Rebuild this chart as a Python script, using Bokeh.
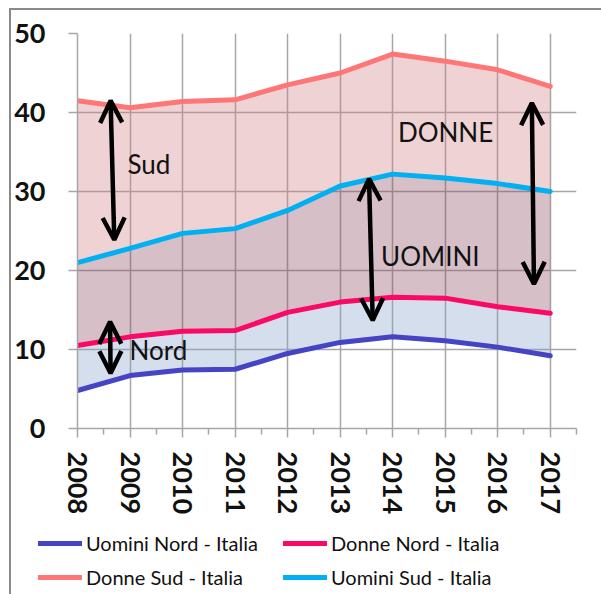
from bokeh.plotting import figure
from bokeh.layouts import column
from bokeh.models import Range1d, FixedTicker, Legend, LegendItem, Label, Arrow, OpenHead
from bokeh.embed import file_html
from bokeh.resources import INLINE

years = [2008, 2009, 2010, 2011, 2012, 2013, 2014, 2015, 2016, 2017]
year_labels = ["2008", "2009", "2010", "2011", "2012", "2013", "2014", "2015", "2016", "2017"]
uomini_nord = [4.8, 6.7, 7.4, 7.5, 9.5, 10.9, 11.6, 11.1, 10.3, 9.2]
donne_nord = [10.5, 11.6, 12.3, 12.4, 14.7, 16.0, 16.6, 16.5, 15.4, 14.6]
donne_sud = [41.5, 40.6, 41.4, 41.6, 43.5, 45.0, 47.4, 46.5, 45.4, 43.3]
uomini_sud = [21.0, 22.8, 24.7, 25.3, 27.6, 30.7, 32.2, 31.7, 31.0, 30.0]
y_ticks = [0, 10, 20, 30, 40, 50]

# annotations (data units)
notes = [("Sud", 2008.95, 33.5), ("Nord", 2008.99, 9.9), ("DONNE", 2014.1, 37.5), ("UOMINI", 2013.78, 21.8)]
arrows = [(2008.63, 41.5, 2008.70, 23.9), (2008.62, 13.5, 2008.63, 7.0),
          (2013.55, 31.6, 2013.62, 13.7), (2016.65, 41.2, 2016.69, 18.3)]

colors = {"un": "#4444C4", "dn": "#FA0A64", "ds": "#FF7676", "us": "#00B0F0"}

p = figure(width=590, height=515, output_backend="svg", toolbar_location=None,
           x_range=Range1d(2008, 2017.5), y_range=Range1d(0, 50),
           min_border_left=65, min_border_right=25, min_border_top=23, min_border_bottom=97)
p.outline_line_color = None
p.frame_align = False

# bands
p.varea(x=years, y1=uomini_sud, y2=donne_sud, fill_color="#D18184", fill_alpha=0.35)
p.varea(x=years, y1=donne_nord, y2=uomini_sud, fill_color="#8A485F", fill_alpha=0.35)
p.varea(x=years, y1=uomini_nord, y2=donne_nord, fill_color="#84A1C9", fill_alpha=0.35)

kw = dict(line_width=5, line_cap="round", line_join="round")
p.line(years, uomini_nord, line_color=colors["un"], **kw)
p.line(years, donne_nord, line_color=colors["dn"], **kw)
p.line(years, donne_sud, line_color=colors["ds"], **kw)
p.line(years, uomini_sud, line_color=colors["us"], **kw)

grid_col = "#A6A6A6"
p.xgrid.grid_line_color = grid_col
p.ygrid.grid_line_color = grid_col
p.xgrid.grid_line_width = 1.5
p.ygrid.grid_line_width = 1.5

minor = [y + 0.5 for y in years]
p.xaxis.ticker = FixedTicker(ticks=years, minor_ticks=minor)
p.xaxis.major_label_overrides = {y: l for y, l in zip(years, year_labels)}
p.xaxis.major_label_orientation = "vertical"
p.yaxis.ticker = FixedTicker(ticks=y_ticks)
for ax in (p.xaxis, p.yaxis):
    ax.axis_line_color = grid_col
    ax.axis_line_width = 1.5
    ax.major_tick_line_color = grid_col
    ax.major_tick_line_width = 1.5
    ax.minor_tick_line_color = grid_col
    ax.minor_tick_line_width = 1.5
    ax.major_tick_in = 0
    ax.major_tick_out = 9
    ax.minor_tick_in = 0
    ax.minor_tick_out = 6
    ax.major_label_text_font = "Lato"
    ax.major_label_text_font_style = "bold"
    ax.major_label_text_font_size = "27px"
    ax.major_label_text_color = "#111111"
p.yaxis.minor_tick_line_color = None
p.xaxis.major_label_standoff = 14
p.yaxis.major_label_standoff = 23

for (t, x, y) in notes:
    p.add_layout(Label(x=x, y=y, text=t, text_font="Lato", text_font_size="26px",
                       text_baseline="middle", text_align="left", text_color="#111111"))
for (x0, y0, x1, y1) in arrows:
    p.add_layout(Arrow(x_start=x0, y_start=y0, x_end=x1, y_end=y1, line_width=4.5, line_color="black",
                       start=OpenHead(size=22, line_width=4.5, line_color="black"),
                       end=OpenHead(size=22, line_width=4.5, line_color="black")))

# legend strip (series lines lie outside its visible range; only their legend swatches show)
lf = figure(width=590, height=69, output_backend="svg", toolbar_location=None,
            x_range=Range1d(0, 1), y_range=Range1d(0, 1),
            x_axis_location=None, y_axis_location=None,
            min_border_left=0, min_border_right=0, min_border_top=0, min_border_bottom=0)
lf.outline_line_color = None
lf.grid.visible = False
lf.frame_align = False
l_un = lf.line(years, uomini_nord, line_color=colors["un"], **kw)
l_dn = lf.line(years, donne_nord, line_color=colors["dn"], **kw)
l_ds = lf.line(years, donne_sud, line_color=colors["ds"], **kw)
l_us = lf.line(years, uomini_sud, line_color=colors["us"], **kw)

def mk_legend(items, loc):
    lg = Legend(items=items, location=loc, orientation="vertical", padding=0, margin=0,
                spacing=10, glyph_width=44, glyph_height=24, label_height=24, label_standoff=4,
                label_text_font="Lato", label_text_font_size="20px", label_text_color="#111111",
                border_line_alpha=0, background_fill_alpha=0)
    lf.add_layout(lg, "center")

mk_legend([LegendItem(label="Uomini Nord - Italia", renderers=[l_un]),
           LegendItem(label="Donne Sud - Italia", renderers=[l_ds])], (27, 5))
mk_legend([LegendItem(label="Donne Nord - Italia", renderers=[l_dn]),
           LegendItem(label="Uomini Sud - Italia", renderers=[l_us])], (272, 5))

layout = column(p, lf, spacing=0)
layout.styles = {"margin-left": "9px", "margin-top": "8px",
                 "border-left": "2px solid #8a8a8a", "border-top": "2px solid #8a8a8a"}

open("out.html", "w").write(file_html(layout, INLINE))
